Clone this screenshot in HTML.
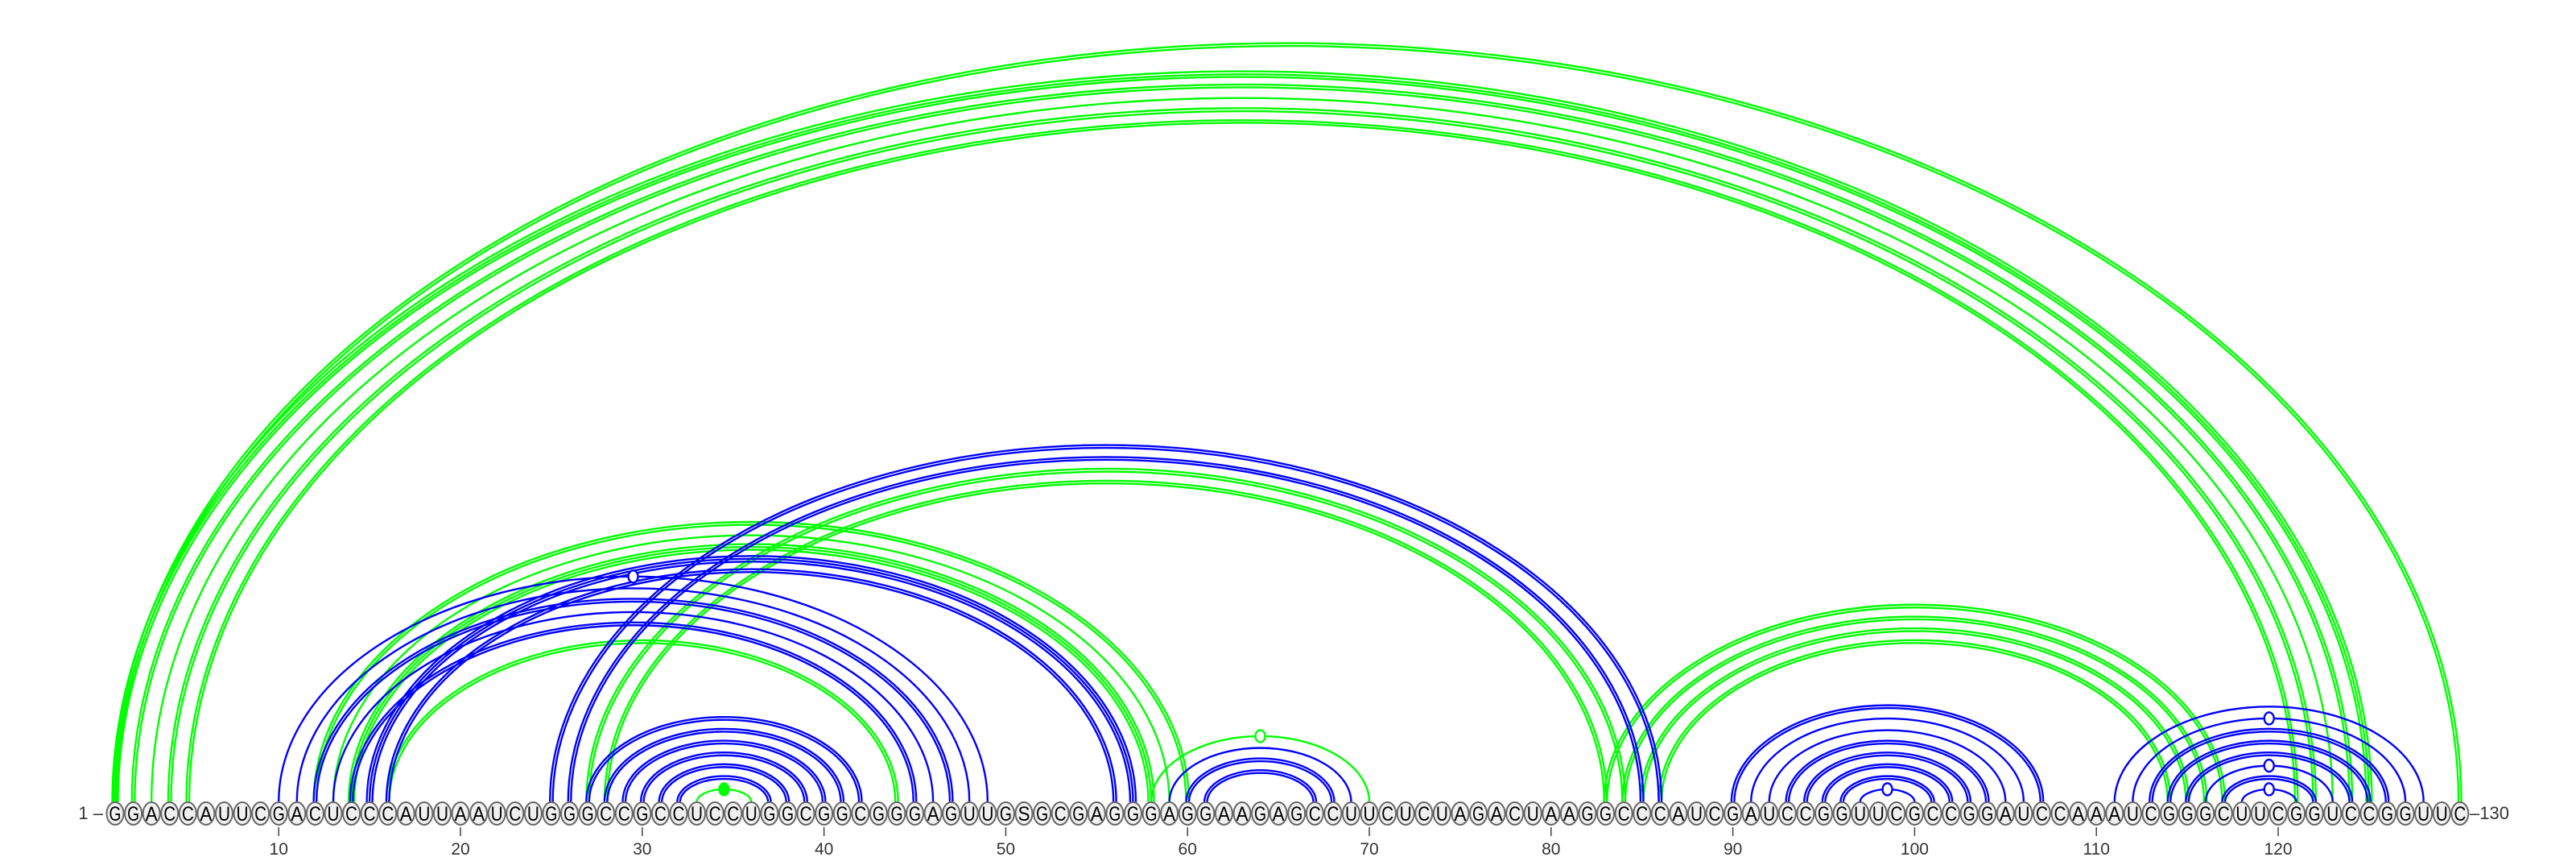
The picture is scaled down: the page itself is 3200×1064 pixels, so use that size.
<!DOCTYPE html>
<html><head><meta charset="utf-8">
<style>
html,body{margin:0;padding:0;background:#fff;}
svg{display:block;}
text{font-family:"Liberation Sans",sans-serif;}
</style></head>
<body>
<svg id="chart" width="3200" height="1064" viewBox="0 0 3200 1064" xmlns="http://www.w3.org/2000/svg">
<g id="arcs"></g>
<g id="nodes"></g>
<g id="axis"></g>
</svg>
<script>
const sequence = "GGACCAUUCGACUCCCAUUAAUCUGGGCCGCCUCCUGGCGGCGGGAGUUGSGCGAGGGAGGAAGAGCCUUCUCUAGACUAAGGCCCAUCGAUCCGGUUCGCCGGAUCCAAAUCGGGCUUCGGUCCGGUUC";
const pairI = [1,1,2,3,4,5,27,28,12,13,14,16,33,58,83,84,85,86,
  25,26,15,16,10,11,12,13,14,27,28,29,30,31,32,59,60,61,
  90,91,92,93,94,95,96,97,111,112,113,114,115,116,117,118];
const pairJ = [130,125,124,123,122,121,84,83,60,59,58,44,36,70,117,116,115,114,
  86,85,57,56,49,48,47,46,45,42,41,40,39,38,37,69,68,67,
  107,106,105,104,103,102,101,100,128,127,126,125,124,123,122,121];
const pairColor = ["g","g","g","g","g","g","g","g","g","g","g","g","g","g","g","g","g","g",
  "b","b","b","b","b","b","b","b","b","b","b","b","b","b","b","b","b","b",
  "b","b","b","b","b","b","b","b","b","b","b","b","b","b","b","b"];
const pairLines = [2,3,2,1,2,2,2,2,2,1,3,2,1,1,2,2,2,2,
  2,2,3,2,1,1,2,1,2,2,2,2,2,2,2,1,2,2,
  2,1,1,2,2,2,2,1,1,1,2,2,2,1,2,1];
const pairMarker = ["","","","","","","","","","","","","filled","open","","","","",
  "","","","","open","","","","","","","","","","","","","",
  "","","","","","","","open","","open","","","","open","","open"];
const tickValues = [10,20,30,40,50,60,70,80,90,100,110,120];

const NS = "http://www.w3.org/2000/svg";
const X0 = 143, STEP = 22.58, Y0 = 996, NODE_Y = 1010;
function xOf(i){ return X0 + (i-1)*STEP; }
function heightOf(hw){ return Math.max(8, 0.65*hw - 6); }
const colors = {g:"#00ff00", b:"#0000ff"};

const arcsG = document.getElementById("arcs");
for (let a = 0; a < pairI.length; a++) {
  const x1 = xOf(pairI[a]), x2 = xOf(pairJ[a]);
  const hw = (x2 - x1)/2, h = heightOf(hw), col = colors[pairColor[a]];
  const n = pairLines[a];
  for (let k = 0; k < n; k++) {
    const d = (k - (n-1)/2) * 3.5;
    const p = document.createElementNS(NS, "path");
    p.setAttribute("d", `M ${x1-d} ${Y0} A ${hw+d} ${h+d} 0 0 1 ${x2+d} ${Y0}`);
    p.setAttribute("fill", "none");
    p.setAttribute("stroke", col);
    p.setAttribute("stroke-width", "2.4");
    
    
    arcsG.appendChild(p);
  }
  if (pairMarker[a]) {
    const m = document.createElementNS(NS, "ellipse");
    m.setAttribute("cx", (x1+x2)/2);
    m.setAttribute("cy", Y0 - h);
    m.setAttribute("rx", 6);
    m.setAttribute("ry", 7.5);
    m.setAttribute("fill", pairMarker[a] === "filled" ? col : "#fff");
    m.setAttribute("stroke", col);
    m.setAttribute("stroke-width", "2.4");
    
    
    arcsG.appendChild(m);
  }
}

const nodesG = document.getElementById("nodes");
for (let i = 0; i < sequence.length; i++) {
  const g = document.createElementNS(NS, "g");
  
  
  const e = document.createElementNS(NS, "ellipse");
  e.setAttribute("cx", xOf(i+1)); e.setAttribute("cy", NODE_Y);
  e.setAttribute("rx", 10.5); e.setAttribute("ry", 14);
  e.setAttribute("fill", "#f0f0f0"); e.setAttribute("stroke", "#666"); e.setAttribute("stroke-width", "2");
  g.appendChild(e);
  const t = document.createElementNS(NS, "text");
  t.setAttribute("x", xOf(i+1)); t.setAttribute("y", NODE_Y + 9);
  t.setAttribute("text-anchor", "middle"); t.setAttribute("font-size", "25");
  t.setAttribute("textLength", "15"); t.setAttribute("lengthAdjust", "spacingAndGlyphs");
  t.setAttribute("fill", "#000");
  t.textContent = sequence[i];
  g.appendChild(t);
  nodesG.appendChild(g);
}

const axisG = document.getElementById("axis");
for (let k = 0; k < tickValues.length; k++) {
  const x = xOf(tickValues[k]);
  const l = document.createElementNS(NS, "line");
  l.setAttribute("x1", x); l.setAttribute("x2", x);
  l.setAttribute("y1", 1027); l.setAttribute("y2", 1038);
  l.setAttribute("stroke", "#444"); l.setAttribute("stroke-width", "1.5");
  
  
  axisG.appendChild(l);
  const t = document.createElementNS(NS, "text");
  t.setAttribute("x", x); t.setAttribute("y", 1061);
  t.setAttribute("text-anchor", "middle"); t.setAttribute("font-size", "21"); t.setAttribute("fill", "#333");
  t.textContent = tickValues[k];
  
  
  axisG.appendChild(t);
}
const startLabel = document.createElementNS(NS, "text");
startLabel.setAttribute("x", 128); startLabel.setAttribute("y", 1017);
startLabel.setAttribute("text-anchor", "end"); startLabel.setAttribute("font-size", "22"); startLabel.setAttribute("fill", "#333");
startLabel.textContent = "1 –";


axisG.appendChild(startLabel);
const endLabel = document.createElementNS(NS, "text");
endLabel.setAttribute("x", 3068); endLabel.setAttribute("y", 1017);
endLabel.setAttribute("font-size", "22"); endLabel.setAttribute("fill", "#333");
endLabel.textContent = "–130";


axisG.appendChild(endLabel);
</script>
</body></html>
